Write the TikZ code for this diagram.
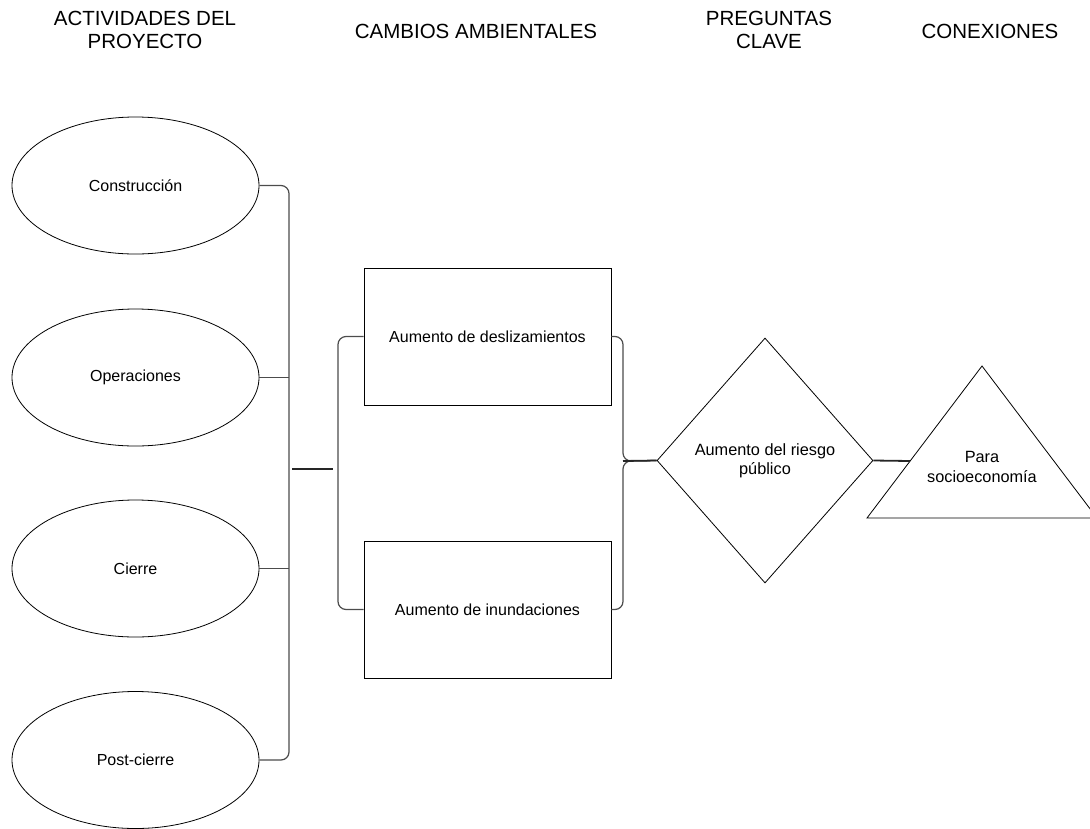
\documentclass[tikz,border=0pt]{standalone}
\usepackage{fontspec}
\setmainfont{Liberation Sans}
\usetikzlibrary{shapes.geometric}
\begin{document}
\begin{tikzpicture}[x=1pt,y=-1pt,
  shapeline/.style={draw=black,line width=0.8pt},
  actnode/.style={shapeline,ellipse,minimum width=247pt,minimum height=137pt,inner sep=0pt,font=\fontsize{16}{19}\selectfont},
  boxnode/.style={shapeline,rectangle,minimum width=247pt,minimum height=137pt,inner sep=0pt,font=\fontsize{16}{19}\selectfont},
  header/.style={align=center,font=\fontsize{20.5}{23.5}\selectfont,inner sep=0pt},
  bodytext/.style={align=center,font=\fontsize{16.3}{19.5}\selectfont,inner sep=0pt},
  conn/.style={draw=black!70,line width=1.2pt,rounded corners=8pt},
  thickconn/.style={draw=black!85,line width=1.8pt}]
\useasboundingbox (0,0) rectangle (1090,828);
% headers
\node[header] (h1) at (145,30) {ACTIVIDADES DEL\\PROYECTO};
\node[header] (h2) at (476,31) {CAMBIOS AMBIENTALES};
\node[header] (h3) at (769,30) {PREGUNTAS\\CLAVE};
\node[header] (h4) at (990,31) {CONEXIONES};
% activities
\node[actnode] (c1) at (135.5,185.5) {Construcción};
\node[actnode] (c2) at (135.5,377.5) {Operaciones};
\node[actnode] (c3) at (135.5,568.5) {Cierre};
\node[actnode] (c4) at (135.5,760) {Post-cierre};
% environmental changes
\node[boxnode] (r1) at (487.5,336.5) {Aumento de deslizamientos};
\node[boxnode] (r2) at (487.5,609.5) {Aumento de inundaciones};
% key question
\node[shapeline,diamond,minimum width=216pt,minimum height=245pt,inner sep=0pt] (d) at (765,460.5) {};
\node[bodytext] (dt) at (765,461) {Aumento del riesgo\\público};
% connection triangle
\coordinate (ta) at (982,366);
\coordinate (tb) at (867,518);
\coordinate (tc) at (1097,518);
\draw[shapeline] (ta) -- (tb) -- (tc) -- cycle;
\coordinate (tl) at (910,461);
\node[bodytext] (tt) at (982,467) {Para\\socioeconomía};
% bracket coordinates
\coordinate (bx) at (289,0);
\coordinate (m1) at (292,469);
\coordinate (m2) at (333,469);
\coordinate (b2x) at (338,0);
\coordinate (b3) at (623,461);
% left bracket
\draw[conn] (c1.east) -| (c4.east -| bx) -- (c4.east);
\draw[conn] (c2.east) -- (c2.east -| bx);
\draw[conn] (c3.east) -- (c3.east -| bx);
\draw[thickconn] (m1) -- (m2);
% middle bracket
\draw[conn] (r1.west) -| (r2.west -| b2x) -- (r2.west);
% right bracket
\draw[conn] (r1.east) -| (b3) -- (d.west);
\draw[conn] (r2.east) -| (b3) -- (d.west);
\draw[thickconn] (b3) -- (d.west);
% to triangle
\draw[thickconn] (d.east) -- (tl);
\end{tikzpicture}
\end{document}
